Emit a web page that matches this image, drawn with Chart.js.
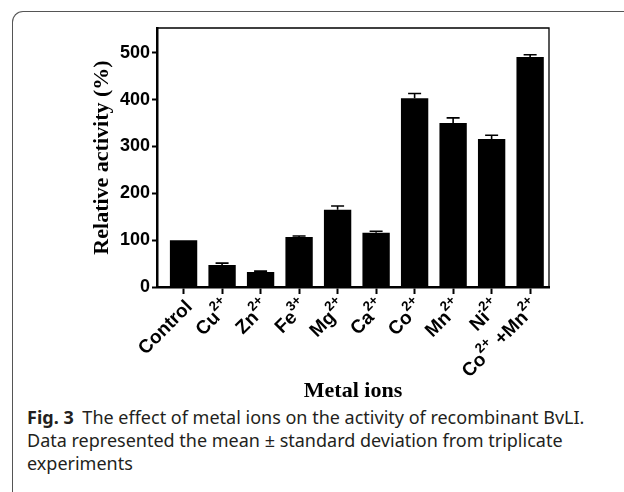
<!DOCTYPE html>
<html>
<head>
<meta charset="utf-8">
<script src="https://cdn.jsdelivr.net/npm/chart.js@4.4.1/dist/chart.umd.min.js"></script>
<style>
  html, body { margin: 0; padding: 0; background: #fff; }
  #wrap { position: relative; width: 624px; height: 492px; overflow: hidden; }
  #frame {
    position: absolute; left: 12px; top: 11px; width: 640px; height: 500px;
    border-left: 1px solid #555; border-top: 1px solid #555;
    border-top-left-radius: 11px;
  }
  #chart { position: absolute; left: 0; top: 0; }
  #caption {
    position: absolute; left: 27px; top: 406px; width: 597px;
    font-family: "Noto Sans", "Open Sans", sans-serif; font-size: 18px;
    line-height: 23px; color: #231f20; white-space: nowrap;
  }
  #caption b { font-weight: 700; margin-right: 4px; }
</style>
</head>
<body>
<div id="wrap">
  <div id="frame"></div>
  <canvas id="chart" width="624" height="405"></canvas>
  <div id="caption"><b>Fig. 3</b> The effect of metal ions on the activity of recombinant BvLI.<br>Data represented the mean ± standard deviation from triplicate<br>experiments</div>
</div>
<script>
const ionLabels = ["Control", "Cu²⁺", "Zn²⁺", "Fe³⁺", "Mg²⁺", "Ca²⁺", "Co²⁺", "Mn²⁺", "Ni²⁺", "Co²⁺ +Mn²⁺"];
const activity = [100, 47, 32, 107, 165, 116, 403, 350, 316, 491];
const activitySd = [0, 4, 2, 2, 8, 3, 10, 11, 8, 5];
const yTicks = [0, 100, 200, 300, 400, 500];

const supMap = { "²": "2", "³": "3", "⁺": "+" };

// split "Cu²⁺" into [{t:"Cu"}, {t:"2+", sup:true}]
function splitRuns(label) {
    const runs = [];
    for (const ch of label) {
        const sup = ch in supMap;
        const c = sup ? supMap[ch] : ch;
        const last = runs[runs.length - 1];
        if (last && last.sup === sup) last.t += c;
        else runs.push({ t: c, sup: sup });
    }
    return runs;
}

// x labels with real superscripts, rotated 45 degrees
const ionLabelPlugin = {
    id: "ionLabels",
    afterDraw(chart) {
        const ctx = chart.ctx;
        const xs = chart.scales.x;
        const baseFont = "bold 19px 'Liberation Sans', Arial, sans-serif";
        const supFont = "bold 13.5px 'Liberation Sans', Arial, sans-serif";
        ionLabels.forEach((lab, i) => {
            const runs = splitRuns(lab);
            let total = 0;
            runs.forEach(r => {
                ctx.font = r.sup ? supFont : baseFont;
                r.w = ctx.measureText(r.t).width;
                total += r.w;
            });
            ctx.save();
            ctx.translate(xs.getPixelForValue(i) + 6, chart.chartArea.bottom + 17);
            ctx.rotate(-Math.PI / 4);
            ctx.fillStyle = "#000";
            ctx.textAlign = "left";
            ctx.textBaseline = "middle";
            let cx = -total;
            runs.forEach(r => {
                ctx.font = r.sup ? supFont : baseFont;
                ctx.fillText(r.t, cx, r.sup ? -8 : 0);
                cx += r.w;
            });
            ctx.restore();
        });
    }
};

// error bars (upper half only, lower half is hidden behind the bar anyway)
const errorBars = {
    id: "errorBars",
    afterDatasetsDraw(chart) {
        const ctx = chart.ctx;
        const meta = chart.getDatasetMeta(0);
        const y = chart.scales.y;
        ctx.save();
        ctx.strokeStyle = "#000";
        ctx.lineWidth = 1.6;
        meta.data.forEach((bar, i) => {
            if (!activitySd[i]) return;
            const yTop = y.getPixelForValue(activity[i] + activitySd[i]);
            ctx.beginPath();
            ctx.moveTo(bar.x, bar.y);
            ctx.lineTo(bar.x, yTop);
            ctx.moveTo(bar.x - 6.5, yTop);
            ctx.lineTo(bar.x + 6.5, yTop);
            ctx.stroke();
        });
        ctx.restore();
    }
};

// thin top and right lines of the plot box
const plotBox = {
    id: "plotBox",
    afterDraw(chart) {
        const a = chart.chartArea;
        const ctx = chart.ctx;
        ctx.save();
        ctx.strokeStyle = "#000";
        ctx.lineWidth = 1.3;
        ctx.beginPath();
        ctx.moveTo(a.left, a.top);
        ctx.lineTo(a.right, a.top);
        ctx.lineTo(a.right, a.bottom);
        ctx.stroke();
        ctx.restore();
    }
};

new Chart(document.getElementById("chart"), {
    type: "bar",
    data: {
        datasets: [{
            data: activity.map((v, i) => ({ x: i, y: v })),
            backgroundColor: "#000",
            borderWidth: 0,
            barPercentage: 0.71,
            categoryPercentage: 1
        }]
    },
    plugins: [errorBars, plotBox, ionLabelPlugin],
    options: {
        responsive: false,
        animation: false,
        layout: { padding: { left: 89, right: 75, top: 28, bottom: 0 } },
        plugins: { legend: { display: false }, tooltip: { enabled: false } },
        scales: {
            x: {
                type: "linear",
                min: -0.69,
                max: 9.49,
                offset: false,
                afterBuildTicks: s => { s.ticks = ionLabels.map((_, i) => ({ value: i })); },
                afterFit: s => { s.height = 118; },
                grid: { display: true, offset: false, drawOnChartArea: false, tickLength: 7, tickWidth: 2, color: "#000" },
                border: { display: true, width: 2.5, color: "#000" },
                ticks: { display: false, autoSkip: false },
                title: {
                    display: true,
                    text: "Metal ions",
                    color: "#000",
                    padding: 0,
                    font: { family: "Liberation Serif, Times New Roman, serif", size: 22, weight: "bold" }
                }
            },
            y: {
                min: 0,
                max: 553,
                afterBuildTicks: s => { s.ticks = yTicks.map(v => ({ value: v })); },
                afterFit: s => { s.width = 68; },
                grid: { display: true, drawOnChartArea: false, tickLength: 5, tickWidth: 2, color: "#000" },
                border: { display: true, width: 2.5, color: "#000" },
                ticks: {
                    padding: 2,
                    color: "#000",
                    font: { family: "Liberation Sans, Arial, sans-serif", size: 18, weight: "bold" }
                },
                title: {
                    display: true,
                    text: "Relative activity (%)",
                    color: "#000",
                    padding: 0,
                    font: { family: "Liberation Serif, Times New Roman, serif", size: 22, weight: "bold" }
                }
            }
        }
    }
});
</script>
</body>
</html>
